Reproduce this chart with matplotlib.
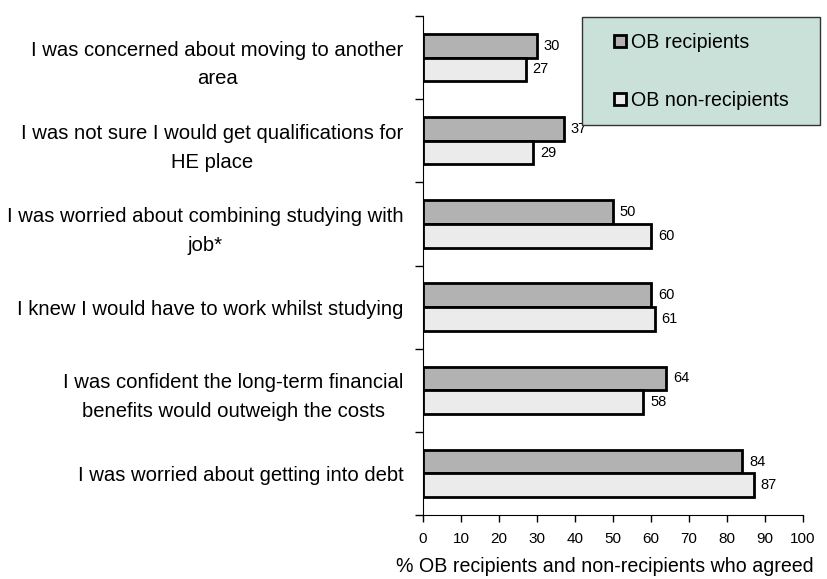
import matplotlib.pyplot as plt
import numpy as np
from matplotlib.patches import Patch, Rectangle

plt.rcParams['font.family'] = ['Liberation Sans', 'DejaVu Sans']

labels = ['I was concerned about moving to another\narea',
          'I was not sure I would get qualifications for\nHE place',
          'I was worried about combining studying with\njob*',
          'I knew I would have to work whilst studying',
          'I was confident the long-term financial\nbenefits would outweigh the costs',
          'I was worried about getting into debt']
recipients = [30, 37, 50, 60, 64, 84]
non_recipients = [27, 29, 60, 61, 58, 87]
xticks = [0, 10, 20, 30, 40, 50, 60, 70, 80, 90, 100]

fig = plt.figure(figsize=(8.27, 5.79), dpi=100)
ax = fig.add_axes([423/827, 1-515/579, 380/827, 499/579])

y = np.arange(len(labels))
h = 0.285
ax.barh(y - h/2, recipients, height=h, color='#b2b2b2', edgecolor='black', linewidth=2)
ax.barh(y + h/2, non_recipients, height=h, color='#ebebeb', edgecolor='black', linewidth=2)

for v, yy in zip(recipients, y - h/2):
    ax.text(v + 1.8, yy, str(v), va='center', ha='left', fontsize=10.5)
for v, yy in zip(non_recipients, y + h/2):
    ax.text(v + 1.8, yy, str(v), va='center', ha='left', fontsize=10.5)

ax.set_xlim(0, 100)
ax.set_ylim(len(labels) - 0.5, -0.5)
ax.set_xticks(xticks)
ax.tick_params(axis='x', labelsize=11, length=5, width=1, direction='out', pad=7)
ax.set_yticks(y)
ax.set_yticklabels(labels, fontsize=14.6)
ax.set_yticks(np.arange(len(labels) + 1) - 0.5, minor=True)
ax.tick_params(axis='y', which='major', length=0, pad=14)
ax.tick_params(axis='y', which='minor', length=6, width=1)
for t in ax.get_yticklabels():
    t.set_multialignment('center')
    t.set_linespacing(1.65)

for s in ['top', 'right']:
    ax.spines[s].set_visible(False)
ax.set_xlabel('% OB recipients and non-recipients who agreed', fontsize=14.1, labelpad=9)
ax.xaxis.set_label_coords(0.479, -0.085)

fig.patches.append(Rectangle((582/827, 1-125/579), 238/827, 108/579,
                             transform=fig.transFigure, facecolor='#c9e1d8',
                             edgecolor='#333333', linewidth=1, zorder=5))
handles = [Patch(facecolor='#b2b2b2', edgecolor='black', linewidth=2, label='OB recipients'),
           Patch(facecolor='#ebebeb', edgecolor='black', linewidth=2, label='OB non-recipients')]
leg = fig.legend(handles=handles, loc='upper left', bbox_to_anchor=(614/827, 1-33/579),
                 frameon=False, fontsize=14.1, handlelength=0.6, handleheight=0.6,
                 handletextpad=0.25, labelspacing=2.0, borderpad=0, borderaxespad=0)
leg.set_zorder(6)

fig.savefig('out.png', dpi=100)
